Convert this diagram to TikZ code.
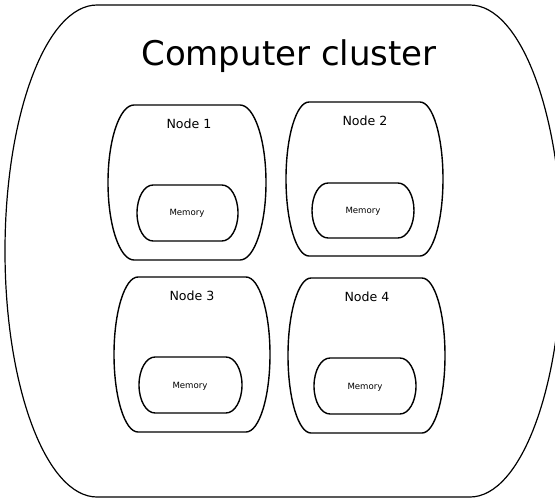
\documentclass[tikz,border=0pt]{standalone}
\usepackage{fontspec}
\setmainfont{DejaVu Sans}
\newcommand\roundsidepath[6]{%
  \draw[#1] (#2,#4) -- (#3,#4)
    arc[start angle=-90,end angle=90,x radius=#6,y radius={(#5-#4)/2}]
    -- (#2,#5)
    arc[start angle=90,end angle=270,x radius=#6,y radius={(#5-#4)/2}]
    -- cycle;}
\tikzset{
  outerline/.style={line width=1.2pt, line join=round},
  nodeline/.style={line width=1.4pt, line join=round},
  memline/.style={line width=1.4pt, line join=round},
  titletext/.style={inner sep=0pt, anchor=base, font=\fontsize{34}{40}\selectfont},
  nodetext/.style={inner sep=0pt, anchor=base, font=\fontsize{12.6}{15}\selectfont},
  memtext/.style={inner sep=0pt, anchor=base, font=\fontsize{8.6}{10}\selectfont},
}
\begin{document}
\begin{tikzpicture}[x=1pt,y=-1pt]
\useasboundingbox[fill=white] (0,0) rectangle (555,498);
% outer cluster
\roundsidepath{outerline}{97}{470}{5}{497}{92}
\node[titletext] (title) at (289,65) {Computer cluster};
% node boxes
\roundsidepath{nodeline}{134}{240}{105}{260}{26}
\roundsidepath{nodeline}{309}{420}{102}{256}{23}
\roundsidepath{nodeline}{138}{246}{277}{432}{24}
\roundsidepath{nodeline}{311}{422}{278}{433}{23}
% memory boxes
\roundsidepath{memline}{153}{222}{185}{241}{16}
\roundsidepath{memline}{328}{398}{183}{238}{16}
\roundsidepath{memline}{155}{226}{357}{413}{16}
\roundsidepath{memline}{330}{400}{358}{414}{16}
% labels
\node[nodetext] (n1) at (189,128) {Node 1};
\node[nodetext] (n2) at (365,125) {Node 2};
\node[nodetext] (n3) at (192,300) {Node 3};
\node[nodetext] (n4) at (367,301) {Node 4};
\node[memtext] (m1) at (187,215) {Memory};
\node[memtext] (m2) at (363,213) {Memory};
\node[memtext] (m3) at (190,388.5) {Memory};
\node[memtext] (m4) at (365,389) {Memory};
\end{tikzpicture}
\end{document}
